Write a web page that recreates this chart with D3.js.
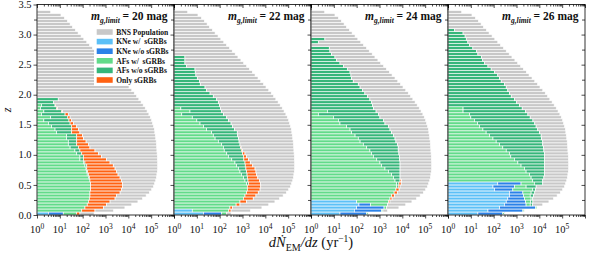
<!DOCTYPE html>
<html>
<head>
<meta charset="utf-8">
<script src="https://cdn.jsdelivr.net/npm/d3@7"></script>
<style>
  body { margin: 0; background: #fff; }
  svg { display: block; }
  text { font-family: "Liberation Serif", "DejaVu Serif", serif; fill: #111; }
</style>
</head>
<body>
<div id="chart"></div>
<script>
// z bins of width 0.05 starting at z = 0; every value is log10 of the
// cumulative right edge of that segment (rate in yr^-1)
const limits = [20, 22, 24, 26];
const binWidth = 0.05;
const zMax = 3.5;
const decadeLabels = [0, 1, 2, 3, 4, 5];
const legendLabels = ["BNS Population", "KNe w/  sGRBs", "KNe w/o sGRBs", "AFs w/  sGRBs", "AFs w/o sGRBs", "Only sGRBs"];

// total BNS population, same in every panel
const bnsTotal = [
  2.5, 3.35, 3.85, 4.15, 4.42, 4.62, 4.78, 4.92, 5.02, 5.1,
  5.15, 5.2, 5.23, 5.25, 5.27, 5.28, 5.28, 5.28, 5.27, 5.27,
  5.26, 5.25, 5.24, 5.23, 5.22, 5.2, 5.18, 5.16, 5.14, 5.1,
  5.06, 5.02, 4.96, 4.9, 4.82, 4.74, 4.65, 4.56, 4.46, 4.36,
  4.26, 4.15, 4.03, 3.92, 3.8, 3.68, 3.55, 3.43, 3.3, 3.18,
  3.05, 2.93, 2.8, 2.68, 2.55, 2.43, 2.3, 2.18, 2.05, 1.93,
  1.8, 1.68, 1.55, 1.45, 1.33, 1.2, 1.05, 0.6
];

// m_g,limit = 20 mag
const kneW20 = [0.5];
const kneWo20 = [1.15];
const afW20 = [
  1.74, 1.96, 2.1, 2.2, 2.25, 2.29, 2.32, 2.32, 2.35, 2.35,
  2.35, 2.32, 2.25, 2.2, 2.18, 2.15, 2.1, 2.03, 1.88, 1.88,
  1.74, 1.66, 1.45, 1.37, 1.37, 1.3, 1.3, 0.86, 0.79, 0.64,
  0.5, 0.3, 0.6, 0.2, 0.3, 0.15, 0.2, 0, 0
];
const afWo20 = [
  null, null, null, null, null, null, null, null, null, null,
  null, null, 2.29, 2.25, 2.22, 2.18, 2.18, 2.1, 2.03, 2.03,
  1.96, 1.88, 1.81, 1.74, 1.74, 1.74, 1.74, 1.52, 1.52, 1.52,
  1.45, 1.4, 1.35, 1.23, 1.08, 0.86, 0.79, 0.72, 0.93
];
const sgrb20 = [
  1.88, 2.54, 2.91, 3.05, 3.2, 3.42, 3.49, 3.64, 3.71, 3.75,
  3.75, 3.71, 3.64, 3.55, 3.49, 3.42, 3.34, 3.2, 3.05, 2.83,
  2.69, 2.54, 2.32, 2.25, 2.15, 2.03, 2.0, 1.88, 1.81, 1.74,
  1.6, 1.52, 1.45, 1.37, 1.12, 0.9, 0.82, 0.72, 0.93
];

// m_g,limit = 22 mag
const kneW22 = [1.29, 0.8];
const kneWo22 = [2.09, 0.8];
const afW22 = [
  2.31, 2.4, 2.45, 2.72, 2.89, 3.04, 3.11, 3.18, 3.21, 3.21,
  3.18, 3.11, 3.04, 2.95, 2.89, 2.82, 2.74, 2.67, 2.53, 2.38,
  2.31, 2.2, 2.16, 2.09, 1.94, 1.8, 1.72, 1.65, 1.43, 1.3,
  1.14, 1.0, 0.8, 0.34, 0.7, 0.3, 0
];
const afWo22 = [
  null, null, null, null, null, null, null, null, null, null,
  3.26, 3.24, 3.21, 3.2, 3.18, 3.15, 3.12, 3.11, 3.06, 3.04,
  3.0, 2.95, 2.92, 2.89, 2.85, 2.82, 2.79, 2.77, 2.65, 2.56,
  2.5, 2.38, 2.31, 2.16, 2.09, 2.03, 2.0, 1.94, 1.87, 1.72,
  1.58, 1.43, 1.36, 1.15, 1.11, 1.02, 0.96, 0.93, 0.92, 0.55,
  0.48, 0.48, 0.48
];
const sgrb22 = [
  2.31, 2.5, 2.57, 2.89, 3.18, 3.47, 3.59, 3.69, 3.77, 3.8,
  3.78, 3.74, 3.67, 3.62, 3.59, 3.55, 3.45, 3.34, 3.26, 3.18,
  3.11, 3.0, 2.94, 2.89
];

// m_g,limit = 24 mag
const kneW24 = [1.27, 1.9, 2.0, 2.1, 2.0];
const kneWo24 = [2.44, 3.1, 3.2, 2.6, 2.0];
const afW24 = [
  2.5, 3.15, 3.3, 3.35, 3.4, 3.46, 3.53, 3.64, 3.72, 3.75,
  3.75, 3.68, 3.61, 3.53, 3.39, 3.24, 3.09, 3.02, 2.88, 2.73,
  2.65, 2.58, 2.44, 2.29, 2.15, 2.07, 1.93, 1.78, 1.71, 1.56,
  1.27, 1.2, 0.98, 0.32, 0.72, 0
];
const afWo24 = [
  null, null, null, null, null, null, null, null, null, 3.82,
  3.85, 3.9, 3.9, 3.9, 3.9, 3.9, 3.9, 3.9, 3.87, 3.87,
  3.85, 3.82, 3.82, 3.78, 3.72, 3.68, 3.61, 3.53, 3.46, 3.39,
  3.24, 3.17, 3.02, 2.95, 2.85, 2.73, 2.7, 2.66, 2.58, 2.47,
  2.36, 2.26, 2.15, 2.07, 1.85, 1.78, 1.75, 1.71, 1.59, 1.42,
  1.27, 1.12, 1.05, 0.9, 0.83, 0.8, null, 0.32, 0.61
];
const sgrb24 = [null, null, null, null, 3.46, 3.55, 3.65, 3.78, 3.86, 3.9, 3.95, 3.97];

// m_g,limit = 26 mag
const kneW26 = [1.31, 1.75, 2.26, 2.47, 2.55, 2.62, 2.69, 2.69, 2.04, 1.97, 2.18];
const kneWo26 = [2.4, 3.28, 3.83, 3.42, 3.4, 3.35, 3.3, 3.28, 2.84, 2.91, 3.2];
const afW26 = [
  2.47, 3.33, 3.89, 3.6, 3.62, 3.64, 3.6, 3.64, 3.71, 3.42,
  3.78, 3.71, 3.64, 3.57, 3.42, 3.35, 3.2, 3.06, 2.91, 2.75,
  2.69, 2.55, 2.4, 2.26, 2.11, 1.97, 1.82, 1.67, 1.53, 1.38,
  1.3, 1.16, 1.0, 0.95, 0.66, 0.66
];
const afWo26 = [
  null, null, null, 3.7, 3.72, 3.71, 3.75, 3.8, 3.83, 3.86,
  4.15, 4.15, 4.2, 4.22, 4.22, 4.22, 4.22, 4.22, 4.22, 4.22,
  4.22, 4.2, 4.18, 4.15, 4.15, 4.1, 4.08, 4.0, 3.93, 3.86,
  3.8, 3.72, 3.6, 3.5, 3.4, 3.25, 3.13, 3.01, 2.91, 2.77,
  2.69, 2.62, 2.55, 2.47, 2.33, 2.26, 2.18, 2.04, 1.89, 1.75,
  1.6, 1.52, 1.46, 1.31, 1.24, 1.09, 0.95, 0.87, 0.8, 0.75,
  0.66, 0.29
];
const sgrb26 = [];

const seriesKeys = ["kneW", "kneWo", "afW", "afWo", "sgrb"];
const colors = {
  bns: "#c8c8c8",
  kneW: "#5cc0f7",
  kneWo: "#2b82e8",
  afW: "#62db8a",
  afWo: "#36b67a",
  sgrb: "#ff6212",
};
const legendKeys = ["bns", "kneW", "kneWo", "afW", "afWo", "sgrb"];

const panels = [
  [kneW20, kneWo20, afW20, afWo20, sgrb20],
  [kneW22, kneWo22, afW22, afWo22, sgrb22],
  [kneW24, kneWo24, afW24, afWo24, sgrb24],
  [kneW26, kneWo26, afW26, afWo26, sgrb26],
].map((series, k) => ({ limit: limits[k], series }));

const width = 592;
const height = 257;
const marginLeft = 37;
const marginTop = 4.5;
const panelW = 137;
const panelH = 210.5;

const svg = d3.select("#chart").append("svg")
  .attr("width", width)
  .attr("height", height);

const x = d3.scaleLog().domain([1, 1e6]).range([0, panelW]);
const y = d3.scaleLinear().domain([0, zMax]).range([panelH, 0]);

const majorX = d3.range(0, 7).map((e) => 10 ** e);
const minorX = d3.range(0, 6).flatMap((e) => d3.range(2, 10).map((m) => m * 10 ** e));
const majorZ = d3.range(0, 3.51, 0.5);
const minorZ = d3.range(0.25, 3.5, 0.5);

panels.forEach((panel, k) => {
  const g = svg.append("g").attr("transform", `translate(${marginLeft + k * panelW},${marginTop})`);

  const segments = [];
  bnsTotal.forEach((total, i) => {
    let prev = 0;
    panel.series.forEach((arr, c) => {
      const v = arr[i];
      if (v == null || v <= prev) return;
      segments.push({ i, key: seriesKeys[c], x0: prev, x1: v });
      prev = v;
    });
    segments.push({ i, key: "bns", x0: prev, x1: total });
  });

  g.selectAll("rect.seg")
    .data(segments)
    .join("rect")
    .attr("class", "seg")
    .attr("x", (d) => x(10 ** d.x0))
    .attr("width", (d) => x(10 ** d.x1) - x(10 ** d.x0))
    .attr("y", (d) => y(binWidth * (d.i + 1)))
    .attr("height", (d) => y(binWidth * d.i) - y(binWidth * (d.i + 1)))
    .attr("fill", (d) => colors[d.key])
    .attr("stroke", "#fff")
    .attr("stroke-width", 0.65);

  if (k === 0) {
    const lg = g.append("g").attr("transform", `translate(${94 - marginLeft},${25 - marginTop})`);
    lg.append("rect").attr("width", 77).attr("height", 61).attr("fill", "#fff");
    legendKeys.forEach((key, j) => {
      const row = lg.append("g").attr("transform", `translate(2.7,${7 + j * 9.6})`);
      row.append("rect")
        .attr("y", -2.8)
        .attr("width", 16)
        .attr("height", 5.6)
        .attr("fill", colors[key]);
      row.append("text")
        .attr("x", 19.5)
        .attr("y", 2.8)
        .attr("font-size", 7.6)
        .attr("font-weight", "bold")
        .attr("xml:space", "preserve")
        .text(legendLabels[j]);
    });
  }

  // frame
  g.append("rect")
    .attr("width", panelW)
    .attr("height", panelH)
    .attr("fill", "none")
    .attr("stroke", "#000")
    .attr("stroke-width", 0.8);

  const tidy = (sel) => {
    sel.select(".domain").remove();
    sel.selectAll(".tick line").attr("stroke", "#000").attr("stroke-width", 0.7);
    sel.selectAll(".tick text").remove();
  };

  g.append("g").attr("transform", `translate(0,${panelH})`)
    .call(d3.axisBottom(x).tickValues(majorX).tickSize(3.5)).call(tidy);
  g.append("g").attr("transform", `translate(0,${panelH})`)
    .call(d3.axisBottom(x).tickValues(minorX).tickSize(2)).call(tidy);
  g.append("g")
    .call(d3.axisTop(x).tickValues(majorX).tickSize(-3.5)).call(tidy);
  g.append("g")
    .call(d3.axisTop(x).tickValues(minorX).tickSize(-2)).call(tidy);

  g.append("g").call(d3.axisLeft(y).tickValues(majorZ).tickSize(3.5)).call(tidy);
  g.append("g").call(d3.axisLeft(y).tickValues(minorZ).tickSize(3)).call(tidy);
  if (k === panels.length - 1) {
    g.append("g").attr("transform", `translate(${panelW},0)`)
      .call(d3.axisRight(y).tickValues(majorZ).tickSize(-3.5)).call(tidy);
    g.append("g").attr("transform", `translate(${panelW},0)`)
      .call(d3.axisRight(y).tickValues(minorZ).tickSize(-3)).call(tidy);
  }

  // decade labels
  const lab = g.selectAll("text.xlab")
    .data(decadeLabels)
    .join("text")
    .attr("class", "xlab")
    .attr("x", (e) => x(10 ** e))
    .attr("y", panelH + 18)
    .attr("text-anchor", "middle")
    .attr("font-size", 10.5);
  lab.append("tspan").text("10");
  lab.append("tspan").attr("dy", -4.5).attr("font-size", 7.5).text((e) => e);

  if (k === 0) {
    g.selectAll("text.ylab")
      .data(majorZ)
      .join("text")
      .attr("class", "ylab")
      .attr("x", -5.5)
      .attr("y", (d) => y(d) + 3.6)
      .attr("text-anchor", "end")
      .attr("font-size", 10.5)
      .text(d3.format(".1f"));
  }

  // panel title
  const title = g.append("text")
    .attr("x", panelW - 6.5)
    .attr("y", 20 - marginTop)
    .attr("text-anchor", "end")
    .attr("font-size", 11.5)
    .attr("font-weight", "bold");
  title.append("tspan").attr("font-style", "italic").text("m");
  title.append("tspan").attr("font-style", "italic").attr("font-size", 7.5).attr("dy", 2.5).text("g,limit");
  title.append("tspan").attr("dy", -2.5).text(` = ${panel.limit} mag`);
});

// axis titles
svg.append("text")
  .attr("transform", "translate(11,110) rotate(-90)")
  .attr("text-anchor", "middle")
  .attr("font-size", 12)
  .attr("font-style", "italic")
  .text("z");

const xt = svg.append("text")
  .attr("x", marginLeft + 2 * panelW)
  .attr("y", 247)
  .attr("text-anchor", "middle")
  .attr("font-size", 14.5);
xt.append("tspan").attr("font-style", "italic").text("d\u1E44");
xt.append("tspan").attr("font-size", 10).attr("dy", 3.5).text("EM");
xt.append("tspan").attr("dy", -3.5).attr("font-style", "italic").text("/dz");
xt.append("tspan").text(" (yr");
xt.append("tspan").attr("font-size", 9.5).attr("dy", -5.5).text("\u22121");
xt.append("tspan").attr("dy", 5.5).text(")");
</script>
</body>
</html>
